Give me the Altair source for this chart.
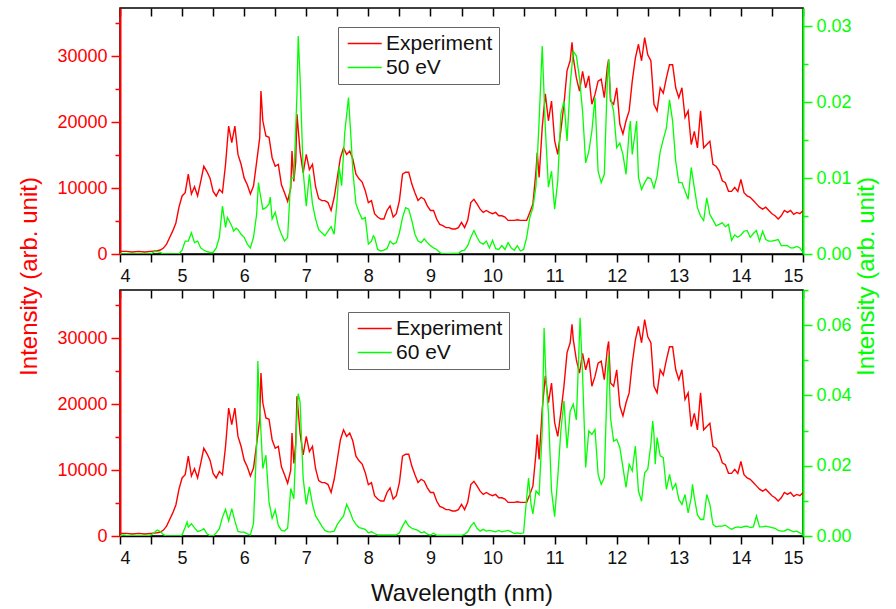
import altair as alt
import pandas as pd

# ---------------- data ----------------
exp_wl = [
    4.0, 4.1, 4.2, 4.3, 4.4, 4.5, 4.6, 4.65, 4.7, 4.75,
    4.8, 4.85, 4.9, 4.95, 5.0, 5.05, 5.1, 5.15, 5.2, 5.25,
    5.3, 5.35, 5.4, 5.45, 5.5, 5.55, 5.6, 5.65, 5.7, 5.75,
    5.8, 5.85, 5.9, 5.95, 6.0, 6.05, 6.1, 6.15, 6.2, 6.25,
    6.27, 6.3, 6.35, 6.4, 6.45, 6.5, 6.55, 6.6, 6.65, 6.7,
    6.75, 6.77, 6.8, 6.83, 6.85, 6.9, 6.95, 7.0, 7.05, 7.1,
    7.15, 7.2, 7.25, 7.3, 7.35, 7.4, 7.45, 7.5, 7.55, 7.6,
    7.65, 7.7, 7.75, 7.8, 7.85, 7.9, 7.95, 8.0, 8.05, 8.1,
    8.15, 8.2, 8.25, 8.3, 8.35, 8.4, 8.45, 8.5, 8.55, 8.6,
    8.65, 8.7, 8.75, 8.8, 8.85, 8.9, 8.95, 9.0, 9.05, 9.1,
    9.15, 9.2, 9.25, 9.3, 9.35, 9.4, 9.45, 9.5, 9.55, 9.6,
    9.65, 9.7, 9.75, 9.8, 9.85, 9.9, 9.95, 10.0, 10.05, 10.1,
    10.15, 10.2, 10.25, 10.3, 10.35, 10.4, 10.45, 10.5, 10.55, 10.6,
    10.65, 10.7, 10.72, 10.75, 10.8, 10.85, 10.9, 10.95, 11.0, 11.05,
    11.1, 11.15, 11.2, 11.25, 11.28, 11.3, 11.35, 11.4, 11.45, 11.5,
    11.55, 11.6, 11.65, 11.7, 11.75, 11.8, 11.85, 11.87, 11.9, 11.95,
    12.0, 12.05, 12.1, 12.15, 12.2, 12.25, 12.3, 12.35, 12.4, 12.45,
    12.5, 12.55, 12.6, 12.65, 12.7, 12.75, 12.8, 12.85, 12.9, 12.95,
    13.0, 13.05, 13.1, 13.15, 13.2, 13.25, 13.3, 13.35, 13.4, 13.45,
    13.5, 13.55, 13.6, 13.65, 13.7, 13.75, 13.8, 13.85, 13.9, 13.95,
    14.0, 14.05, 14.1, 14.15, 14.2, 14.25, 14.3, 14.35, 14.4, 14.45,
    14.5, 14.55, 14.6, 14.65, 14.7, 14.75, 14.8, 14.85, 14.9, 14.95,
    15.0,
]
# experiment intensity, in thousands of counts
exp_k = [
    0.4, 0.4, 0.3, 0.4, 0.3, 0.4, 0.5, 0.6, 0.9, 1.5,
    2.5, 3.5, 4.7, 7.1, 8.8, 9.3, 12.1, 9.1, 10.2, 8.8,
    11.0, 13.3, 12.5, 11.5, 9.5, 8.8, 9.8, 9.3, 13.6, 19.4,
    16.9, 19.4, 15.1, 13.6, 11.5, 10.5, 9.1, 10.3, 13.9, 17.6,
    24.7, 20.2, 17.9, 17.7, 14.6, 13.3, 13.6, 10.5, 9.3, 8.0,
    10.0, 15.6, 11.0, 14.0, 21.2, 15.6, 12.3, 15.1, 12.8, 13.6,
    10.2, 8.4, 8.1, 8.1, 7.8, 6.6, 8.6, 11.6, 14.6, 16.1,
    15.1, 15.6, 14.4, 12.1, 11.4, 10.9, 9.6, 7.8, 8.1, 6.1,
    5.6, 5.3, 5.3, 6.6, 7.3, 5.6, 6.1, 8.1, 12.1, 12.4,
    12.4, 10.6, 9.3, 8.1, 8.6, 8.3, 7.3, 6.6, 6.6, 5.3,
    4.5, 4.3, 4.0, 4.0, 3.8, 3.8, 4.0, 4.8, 4.0, 5.1,
    7.8, 8.3, 7.6, 6.8, 6.3, 6.6, 6.3, 6.1, 6.3, 5.8,
    5.8, 5.6, 5.1, 5.1, 5.1, 5.2, 5.1, 5.1, 5.1, 6.3,
    7.6, 12.6, 15.4, 11.6, 19.2, 24.3, 20.2, 23.2, 17.2, 15.1,
    18.7, 22.7, 27.8, 29.3, 32.1, 29.8, 26.7, 24.7, 27.7, 25.2,
    27.0, 22.7, 24.2, 26.2, 26.5, 23.7, 28.5, 29.5, 23.2, 22.7,
    25.2, 19.7, 18.2, 20.2, 21.7, 26.2, 29.7, 31.8, 29.3, 32.8,
    30.2, 29.3, 22.7, 21.7, 25.2, 24.4, 26.7, 28.7, 28.7, 25.2,
    23.7, 25.2, 20.7, 21.7, 16.6, 18.6, 16.1, 21.7, 16.1, 16.6,
    17.1, 13.6, 13.3, 12.6, 11.1, 10.8, 9.5, 9.5, 10.1, 9.5,
    11.3, 9.3, 8.8, 8.6, 8.1, 7.6, 7.1, 6.8, 7.1, 6.6,
    6.1, 5.8, 5.3, 5.8, 6.6, 6.3, 6.6, 6.0, 6.3, 6.1,
    6.6,
]

sim50_wl = [
    4.0, 4.5, 4.55, 4.6, 4.65, 4.7, 4.95, 5.0, 5.05, 5.1,
    5.15, 5.2, 5.25, 5.3, 5.35, 5.4, 5.45, 5.5, 5.55, 5.6,
    5.65, 5.7, 5.73, 5.8, 5.83, 5.87, 5.9, 5.95, 6.0, 6.05,
    6.1, 6.15, 6.2, 6.23, 6.25, 6.3, 6.35, 6.4, 6.42, 6.45,
    6.5, 6.55, 6.6, 6.65, 6.7, 6.75, 6.8, 6.85, 6.87, 6.9,
    6.95, 7.0, 7.05, 7.1, 7.15, 7.2, 7.25, 7.3, 7.35, 7.4,
    7.45, 7.5, 7.53, 7.57, 7.62, 7.68, 7.72, 7.75, 7.8, 7.85,
    7.9, 7.95, 8.0, 8.05, 8.08, 8.1, 8.15, 8.2, 8.25, 8.3,
    8.35, 8.4, 8.45, 8.5, 8.55, 8.6, 8.65, 8.7, 8.75, 8.8,
    8.85, 8.9, 8.95, 9.0, 9.05, 9.1, 9.15, 9.2, 9.45, 9.5,
    9.55, 9.6, 9.65, 9.7, 9.75, 9.8, 9.85, 9.9, 9.95, 10.0,
    10.05, 10.1, 10.15, 10.2, 10.25, 10.3, 10.35, 10.4, 10.45, 10.5,
    10.55, 10.6, 10.65, 10.7, 10.75, 10.8, 10.85, 10.9, 10.95, 11.0,
    11.05, 11.1, 11.15, 11.2, 11.25, 11.3, 11.35, 11.4, 11.45, 11.5,
    11.55, 11.6, 11.65, 11.7, 11.75, 11.8, 11.85, 11.87, 11.9, 11.95,
    12.0, 12.05, 12.1, 12.15, 12.2, 12.22, 12.25, 12.3, 12.32, 12.35,
    12.4, 12.45, 12.5, 12.55, 12.6, 12.65, 12.7, 12.75, 12.8, 12.85,
    12.9, 12.95, 13.0, 13.05, 13.1, 13.15, 13.2, 13.25, 13.3, 13.35,
    13.4, 13.45, 13.5, 13.55, 13.6, 13.65, 13.7, 13.75, 13.8, 13.85,
    13.9, 13.95, 14.0, 14.05, 14.1, 14.15, 14.2, 14.25, 14.3, 14.35,
    14.4, 14.45, 14.5, 14.55, 14.6, 14.65, 14.7, 14.75, 14.8, 14.85,
    14.9, 14.95, 15.0,
]
# 50 eV simulation, in units of 1e-3
sim50_m = [
    0.0, 0.0, 0.3, 0.3, 0.2, 0.0, 0.0, 0.5, 1.7, 1.7,
    2.8, 1.5, 1.7, 0.8, 0.5, 0.3, 0.2, 0.2, 0.8, 2.2,
    6.3, 3.5, 4.8, 3.7, 3.0, 3.4, 3.2, 2.6, 2.2, 1.3,
    0.8, 2.2, 5.2, 9.4, 8.3, 5.9, 6.1, 6.6, 7.5, 4.6,
    5.5, 3.7, 2.6, 1.7, 2.2, 10.0, 10.0, 21.0, 28.7, 23.2,
    10.9, 6.3, 10.5, 6.6, 4.6, 3.2, 2.8, 2.4, 3.0, 3.6,
    2.6, 7.4, 11.5, 9.0, 16.0, 20.6, 15.3, 10.9, 6.6, 5.5,
    4.6, 4.8, 1.3, 1.7, 2.4, 2.2, 0.6, 0.4, 0.5, 0.7,
    1.7, 1.3, 1.5, 2.8, 4.8, 6.1, 5.9, 4.4, 2.6, 1.7,
    1.5, 2.0, 1.5, 1.1, 0.8, 0.6, 0.2, 0.0, 0.1, 0.4,
    0.5, 1.1, 2.2, 3.1, 2.2, 1.5, 1.3, 1.7, 0.8, 1.8,
    0.7, 0.6, 1.1, 0.6, 1.5, 0.8, 0.5, 1.1, 0.4, 0.6,
    2.2, 4.8, 6.1, 9.0, 17.5, 27.4, 16.6, 8.8, 10.9, 5.9,
    9.6, 18.4, 20.1, 14.9, 22.3, 26.7, 26.1, 23.2, 18.8, 12.0,
    13.5, 16.2, 20.6, 10.9, 9.4, 10.5, 23.2, 25.6, 20.6, 18.8,
    14.0, 14.6, 13.1, 10.5, 16.2, 17.5, 13.1, 16.2, 17.5, 10.1,
    8.5, 9.4, 10.1, 9.9, 8.7, 10.3, 13.5, 15.1, 16.6, 20.3,
    17.5, 12.2, 9.4, 9.4, 8.3, 7.2, 11.4, 8.7, 6.1, 5.0,
    4.4, 7.4, 5.2, 4.5, 3.7, 3.9, 4.1, 3.6, 3.9, 1.8,
    2.5, 2.2, 2.5, 3.0, 3.1, 2.2, 2.7, 3.1, 1.7, 3.0,
    1.9, 1.7, 1.7, 1.8, 1.9, 1.1, 1.1, 1.1, 0.8, 0.8,
    1.0, 0.8, 0.2,
]

sim60_wl = [
    4.0, 4.05, 4.1, 4.45, 4.5, 4.55, 4.6, 4.65, 4.7, 4.75,
    4.95, 5.0, 5.05, 5.08, 5.1, 5.15, 5.2, 5.25, 5.3, 5.35,
    5.4, 5.45, 5.5, 5.55, 5.6, 5.65, 5.7, 5.75, 5.8, 5.85,
    5.9, 5.95, 6.0, 6.05, 6.1, 6.15, 6.2, 6.22, 6.25, 6.3,
    6.35, 6.4, 6.45, 6.5, 6.55, 6.6, 6.65, 6.7, 6.75, 6.8,
    6.85, 6.87, 6.9, 6.95, 7.0, 7.05, 7.1, 7.15, 7.2, 7.25,
    7.3, 7.35, 7.4, 7.45, 7.5, 7.55, 7.6, 7.65, 7.7, 7.75,
    7.8, 7.85, 7.9, 7.95, 8.0, 8.05, 8.1, 8.15, 8.45, 8.5,
    8.55, 8.6, 8.65, 8.7, 8.75, 8.8, 8.85, 8.9, 8.95, 9.0,
    9.05, 9.1, 9.5, 9.55, 9.6, 9.65, 9.7, 9.75, 9.8, 9.85,
    9.9, 9.95, 10.0, 10.05, 10.1, 10.15, 10.2, 10.25, 10.3, 10.35,
    10.4, 10.45, 10.5, 10.55, 10.58, 10.62, 10.65, 10.7, 10.75, 10.8,
    10.83, 10.86, 10.9, 10.95, 11.0, 11.05, 11.1, 11.15, 11.2, 11.25,
    11.3, 11.35, 11.41, 11.45, 11.5, 11.55, 11.6, 11.65, 11.7, 11.75,
    11.8, 11.85, 11.87, 11.9, 11.95, 12.0, 12.05, 12.1, 12.15, 12.2,
    12.25, 12.3, 12.35, 12.4, 12.45, 12.5, 12.55, 12.58, 12.6, 12.62,
    12.65, 12.7, 12.75, 12.8, 12.85, 12.9, 12.95, 13.0, 13.05, 13.1,
    13.15, 13.2, 13.22, 13.25, 13.3, 13.35, 13.4, 13.45, 13.5, 13.55,
    13.6, 13.65, 13.7, 13.75, 13.8, 13.85, 13.9, 13.95, 14.0, 14.05,
    14.1, 14.15, 14.2, 14.25, 14.3, 14.35, 14.4, 14.45, 14.5, 14.55,
    14.6, 14.65, 14.7, 14.75, 14.8, 14.85, 14.9, 14.95, 15.0,
]
# 60 eV simulation, in units of 1e-3
sim60_m = [
    0.0, 0.3, 0.2, 0.1, 0.3, 0.9, 1.7, 1.3, 0.4, 0.0,
    0.0, 0.3, 2.5, 4.0, 2.5, 3.5, 2.3, 1.3, 1.5, 2.1,
    0.6, 0.1, 0.0, 0.9, 2.1, 5.3, 7.6, 4.3, 7.8, 4.3,
    1.3, 1.1, 1.1, 0.6, 0.3, 3.6, 26.1, 49.8, 36.5, 19.2,
    23.0, 9.7, 5.0, 7.4, 3.0, 1.6, 1.4, 2.2, 13.5, 10.6,
    34.3, 40.5, 38.1, 16.4, 9.0, 14.0, 9.0, 5.7, 4.3, 2.8,
    1.6, 1.2, 1.2, 1.4, 3.3, 4.5, 5.7, 9.0, 7.1, 4.7,
    3.3, 2.4, 2.2, 1.9, 0.9, 1.2, 0.7, 0.3, 0.3, 0.9,
    2.8, 4.3, 2.8, 2.2, 1.9, 1.6, 0.9, 1.2, 0.5, 0.3,
    0.8, 0.2, 0.2, 0.5, 1.2, 2.8, 3.8, 2.2, 1.4, 1.9,
    1.4, 1.6, 1.4, 1.2, 1.6, 1.2, 1.4, 1.6, 1.2, 0.7,
    0.9, 0.7, 0.9, 10.9, 16.5, 9.0, 6.3, 12.8, 11.8, 30.0,
    59.2, 45.0, 35.0, 12.8, 5.5, 16.6, 29.9, 38.5, 25.0, 35.5,
    37.5, 33.0, 62.1, 45.9, 19.5, 29.9, 28.9, 30.3, 17.5, 14.7,
    16.6, 45.9, 51.6, 33.6, 27.0, 27.5, 25.2, 19.5, 13.8, 20.4,
    18.5, 25.6, 12.8, 9.9, 18.0, 19.0, 26.1, 32.7, 28.9, 20.4,
    28.0, 22.8, 22.3, 13.3, 17.5, 13.3, 14.9, 10.4, 9.0, 11.8,
    6.6, 10.9, 14.7, 10.9, 6.0, 4.7, 4.7, 11.8, 9.0, 3.3,
    2.6, 2.8, 2.8, 3.1, 2.4, 1.9, 2.4, 2.6, 2.4, 2.7,
    2.8, 2.4, 2.6, 5.7, 2.6, 2.6, 2.8, 2.6, 2.4, 2.2,
    1.6, 1.4, 1.4, 1.9, 1.6, 1.2, 1.4, 0.9, 0.3,
]

assert len(exp_wl) == len(exp_k)
assert len(sim50_wl) == len(sim50_m)
assert len(sim60_wl) == len(sim60_m)

x_tick_vals = [4 + 0.5 * i for i in range(23)]
left_tick_vals = [0, 5000, 10000, 15000, 20000, 25000, 30000, 35000]
right50_tick_vals = [0.0, 0.005, 0.01, 0.015, 0.02, 0.025, 0.03]
right60_tick_vals = [0.0, 0.01, 0.02, 0.03, 0.04, 0.05, 0.06, 0.07]

# ---------------- styling ----------------
FONT = "Liberation Sans"
RED = "#ff0000"
GREEN = "#00ff00"
LEFT_MAX = 37300
X_DOMAIN = [4, 15]
W, H = 683, 246
TITLE_CENTER = 275  # absolute y of both shared y-axis titles
TOP_Y0 = 7

exp_df = pd.DataFrame({"wl": exp_wl, "val": [v * 1000 for v in exp_k]})


def panel(sim_wl, sim_m, sim_label, right_max, right_vals, right_major_test,
          legend_x, legend_y, show_titles, x_title):
    sim_df = pd.DataFrame({"wl": sim_wl, "val": [v / 1000 for v in sim_m]})
    exp_d = exp_df.assign(series="Experiment")
    sim_d = sim_df.assign(series=sim_label)

    color = alt.Color(
        "series:N",
        scale=alt.Scale(domain=["Experiment", sim_label], range=[RED, GREEN]),
        legend=alt.Legend(
            title=None, orient="none", legendX=legend_x, legendY=legend_y,
            symbolType="M-0.8,0L3.2,0", symbolSize=289, symbolStrokeWidth=1.5,
            labelFont=FONT, labelFontSize=21, labelColor="#111111",
            labelOffset=21, padding=6, rowPadding=2,
            strokeColor="#666666", fillColor="white",
        ),
    )

    x_bottom = alt.X(
        "wl:Q",
        scale=alt.Scale(domain=X_DOMAIN, nice=False, zero=False),
        axis=alt.Axis(
            orient="bottom", values=x_tick_vals, format=".0f",
            labelExpr="datum.value % 1 === 0 ? datum.label : ''",
            tickSize=8, tickColor="black", tickWidth=1.5,
            domainColor="black", domainWidth=1.5,
            labelFont=FONT, labelFontSize=18, labelColor="#111111",
            labelPadding=5, grid=False,
            title=x_title if x_title else None,
            titleFont=FONT, titleFontSize=24, titleFontWeight="normal",
            titleColor="#111111", titleY=57, titleBaseline="middle",
        ),
    )
    x_top = alt.X(
        "wl:Q",
        scale=alt.Scale(domain=X_DOMAIN, nice=False, zero=False),
        axis=alt.Axis(
            orient="top", values=x_tick_vals, labels=False, domain=False,
            tickSize=8, tickColor="black", tickWidth=1.5, offset=-8,
            grid=False, title=None,
        ),
    )

    left_axis = dict(
        orient="left", values=left_tick_vals, format="d",
        labelExpr="datum.value % 10000 === 0 ? datum.label : ''",
        tickSize={"condition": {"test": "datum.value % 10000 === 0", "value": 9}, "value": 5},
        tickColor=RED, tickWidth=1.5, domainColor=RED, domainWidth=2,
        labelFont=FONT, labelFontSize=18, labelColor=RED, labelPadding=4,
        grid=False,
    )
    if show_titles:
        left_axis.update(
            title="Intensity (arb. unit)", titleFont=FONT, titleFontSize=24,
            titleFontWeight="normal", titleColor=RED, titleAngle=270,
            titleX=-91, titleY=TITLE_CENTER - TOP_Y0, titleBaseline="middle",
            titleAlign="center",
        )
    else:
        left_axis.update(title=None)

    right_axis = dict(
        orient="right", values=right_vals, format=".2f",
        labelExpr=f"{right_major_test} ? datum.label : ''",
        tickSize={"condition": {"test": right_major_test, "value": 9}, "value": 5},
        tickColor=GREEN, tickWidth=1.5, domainColor=GREEN, domainWidth=2,
        labelFont=FONT, labelFontSize=18, labelColor=GREEN, labelPadding=4,
        grid=False,
    )
    if show_titles:
        right_axis.update(
            title="Intensity (arb. unit)", titleFont=FONT, titleFontSize=24,
            titleFontWeight="normal", titleColor=GREEN, titleAngle=270,
            titleX=63, titleY=TITLE_CENTER - TOP_Y0, titleBaseline="middle",
            titleAlign="center",
        )
    else:
        right_axis.update(title=None)

    exp_line = alt.Chart(exp_d).mark_line(strokeWidth=1.4, clip=True).encode(
        x=x_bottom,
        y=alt.Y("val:Q", scale=alt.Scale(domain=[0, LEFT_MAX], nice=False),
                axis=alt.Axis(**left_axis)),
        color=color,
    )
    sim_line = alt.Chart(sim_d).mark_line(strokeWidth=1.3, clip=True).encode(
        x=x_top,
        y=alt.Y("val:Q", scale=alt.Scale(domain=[0, right_max], nice=False),
                axis=alt.Axis(**right_axis)),
        color=color,
    )
    return (
        alt.layer(exp_line, sim_line)
        .resolve_scale(y="independent")
        .resolve_axis(x="independent", y="independent")
        .properties(width=W, height=H)
    )


top = panel(sim50_wl, sim50_m, "50 eV", 0.0324, right50_tick_vals,
            "abs(datum.value * 100 - round(datum.value * 100)) < 0.000001",
            218, 19, True, None)
bottom = panel(sim60_wl, sim60_m, "60 eV", 0.0700, right60_tick_vals,
               "round(datum.value * 100) % 2 === 0",
               228, 22, False, "Wavelength (nm)")

chart = (
    alt.vconcat(top, bottom, spacing=36, bounds="flush")
    .resolve_scale(color="independent")
    .properties(padding={"left": 16, "top": 6, "right": 5, "bottom": 5}, background="white")
    .configure_view(stroke="black", strokeWidth=1.5)
)

chart.save("out.html", embed_options={"renderer": "svg", "actions": False})
